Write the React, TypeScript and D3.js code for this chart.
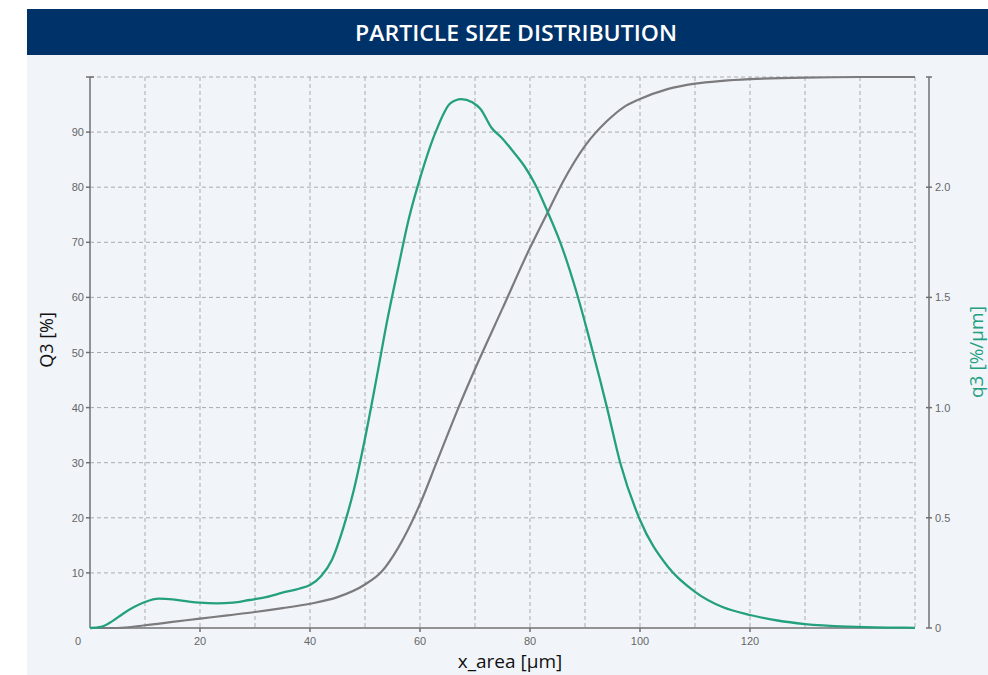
import React from "react";
import * as d3 from "d3";

// particle size x_area [µm]
const q3Sizes = [0, 5, 10, 15, 20, 25, 30, 35, 40, 45, 50, 53, 56, 60, 63, 67, 70, 75, 80, 83, 86, 90, 94, 97, 100, 105, 110, 115, 120, 130, 140, 150];
// cumulative Q3 [%]
const Q3Values = [0, 0, 0.5, 1.1, 1.7, 2.3, 2.9, 3.6, 4.4, 5.6, 7.9, 10.2, 14.5, 22.5, 30, 40, 47, 58, 69, 75, 81, 87.5, 92, 94.5, 96, 97.8, 98.8, 99.3, 99.6, 99.9, 100, 100];

// density q3 [%/µm]
const densSizes = [0, 2, 4, 6, 8, 10, 12.5, 15, 18, 20, 23, 26, 29, 32, 35, 38, 40, 42, 44, 46, 48, 50, 52, 54, 56, 58, 60, 63, 65.5, 67.5, 69.5, 71, 73, 75, 77, 79, 81, 83, 85.5, 88.5, 90.5, 92.7, 94, 96.4, 100, 105, 110, 115, 120, 125, 130, 138, 145, 150];
const densValues = [0, 0.005, 0.03, 0.065, 0.095, 0.118, 0.133, 0.13, 0.12, 0.115, 0.112, 0.115, 0.127, 0.14, 0.16, 0.178, 0.195, 0.235, 0.31, 0.45, 0.63, 0.86, 1.12, 1.39, 1.63, 1.86, 2.04, 2.26, 2.38, 2.4, 2.385, 2.355, 2.27, 2.22, 2.16, 2.095, 2.01, 1.9, 1.75, 1.52, 1.34, 1.13, 1.0, 0.75, 0.49, 0.28, 0.164, 0.095, 0.059, 0.034, 0.018, 0.006, 0.002, 0.001];

const xTicks = [20, 40, 60, 80, 100, 120];
const xGrid = [10, 20, 30, 40, 50, 60, 70, 80, 90, 100, 110, 120, 130, 140, 150];
const leftTicks = [10, 20, 30, 40, 50, 60, 70, 80, 90];
const leftGrid = [10, 20, 30, 40, 50, 60, 70, 80, 90, 100];
const rightTicks = [0, 0.5, 1.0, 1.5, 2.0];

const W = 988;
const H = 675;
const green = "#24a07f";
const axisGray = "#707070";
const tickFont = "'Liberation Sans', Arial, sans-serif";

export default function App() {
  const x = d3.scaleLinear().domain([0, 150]).range([90, 915]);
  const yL = d3.scaleLinear().domain([0, 100]).range([628, 77]);
  const yR = d3.scaleLinear().domain([0, 2.5]).range([628, 77]);

  const cumLine = d3
    .line<number>()
    .x((_, i) => x(q3Sizes[i]))
    .y((d) => yL(d))
    .curve(d3.curveMonotoneX)(Q3Values);

  const densLine = d3
    .line<number>()
    .x((_, i) => x(densSizes[i]))
    .y((d) => yR(d))
    .curve(d3.curveMonotoneX)(densValues);

  const top = yL(100);
  const bottom = yL(0);
  const rightAxisX = 929;

  return (
    <svg
      width={W}
      height={H}
      style={{ position: "absolute", left: 0, top: 0, display: "block" }}
    >
      <rect x={0} y={0} width={W} height={H} fill="#ffffff" />
      <rect x={27} y={55} width={W - 27} height={H - 55} fill="#f1f5fa" />
      <rect x={27} y={9} width={W - 27} height={46} fill="#00326a" />
      <text
        x={516}
        y={41}
        textAnchor="middle"
        fill="#ffffff"
        fontFamily="'Open Sans', sans-serif"
        fontWeight={600}
        fontSize={22}
        textLength={322}
        lengthAdjust="spacingAndGlyphs"
      >
        PARTICLE SIZE DISTRIBUTION
      </text>

      {/* grid */}
      <g stroke="#a9abae" strokeWidth={1} strokeDasharray="4,3" fill="none">
        {xGrid.map((d) => (
          <line key={"gx" + d} x1={x(d)} x2={x(d)} y1={top} y2={bottom} />
        ))}
        {leftGrid.map((d) => (
          <line key={"gy" + d} x1={x(0)} x2={x(150)} y1={yL(d)} y2={yL(d)} />
        ))}
      </g>

      {/* left + bottom axis */}
      <g stroke={axisGray} strokeWidth={1.5}>
        <line x1={x(0)} x2={x(0)} y1={top} y2={bottom} />
        <line x1={x(0) - 4} x2={x(0) + 4} y1={top} y2={top} />
        {leftTicks.map((d) => (
          <line key={"lt" + d} x1={x(0) - 4} x2={x(0)} y1={yL(d)} y2={yL(d)} />
        ))}
        <line x1={x(0)} x2={x(150)} y1={bottom} y2={bottom} />
        {xTicks.map((d) => (
          <line key={"xt" + d} x1={x(d)} x2={x(d)} y1={bottom} y2={bottom + 4} />
        ))}
      </g>
      <g fill="#666" fontFamily={tickFont} fontSize={11}>
        {leftTicks.map((d) => (
          <text key={"ll" + d} x={x(0) - 6} y={yL(d) + 4} textAnchor="end">
            {d}
          </text>
        ))}
        {xTicks.map((d) => (
          <text key={"xl" + d} x={x(d)} y={bottom + 17} textAnchor="middle">
            {d}
          </text>
        ))}
        <text x={78} y={bottom + 17} textAnchor="middle">
          0
        </text>
      </g>

      {/* right axis */}
      <g stroke={axisGray} strokeWidth={1.5}>
        <line x1={rightAxisX} x2={rightAxisX} y1={top} y2={bottom} />
        <line x1={rightAxisX - 3} x2={rightAxisX + 3} y1={top} y2={top} />
        {rightTicks.map((d) => (
          <line key={"rt" + d} x1={rightAxisX - 3} x2={rightAxisX + 3} y1={yR(d)} y2={yR(d)} />
        ))}
      </g>
      <g fill="#666" fontFamily={tickFont} fontSize={11}>
        {rightTicks.map((d) => (
          <text key={"rl" + d} x={rightAxisX + 6} y={yR(d) + 4} textAnchor="start">
            {d === 0 ? "0" : d.toFixed(1)}
          </text>
        ))}
      </g>

      {/* curves */}
      <path d={cumLine || ""} fill="none" stroke="#7b7b7d" strokeWidth={2.2} />
      <path d={densLine || ""} fill="none" stroke={green} strokeWidth={2.3} />

      {/* axis titles */}
      <text
        transform="translate(53,340) rotate(-90)"
        textAnchor="middle"
        fontFamily="'Open Sans', sans-serif"
        fontSize={18}
        fill="#111"
      >
        Q3 [%]
      </text>
      <text
        transform="translate(983,398) rotate(-90)"
        textAnchor="start"
        fontFamily="'Open Sans', sans-serif"
        fontSize={19}
        fill={green}
      >
        q3 [%/µm]
      </text>
      <text
        x={510}
        y={668}
        textAnchor="middle"
        fontFamily="'Open Sans', sans-serif"
        fontSize={19}
        fill="#111"
      >
        x_area [µm]
      </text>
    </svg>
  );
}
